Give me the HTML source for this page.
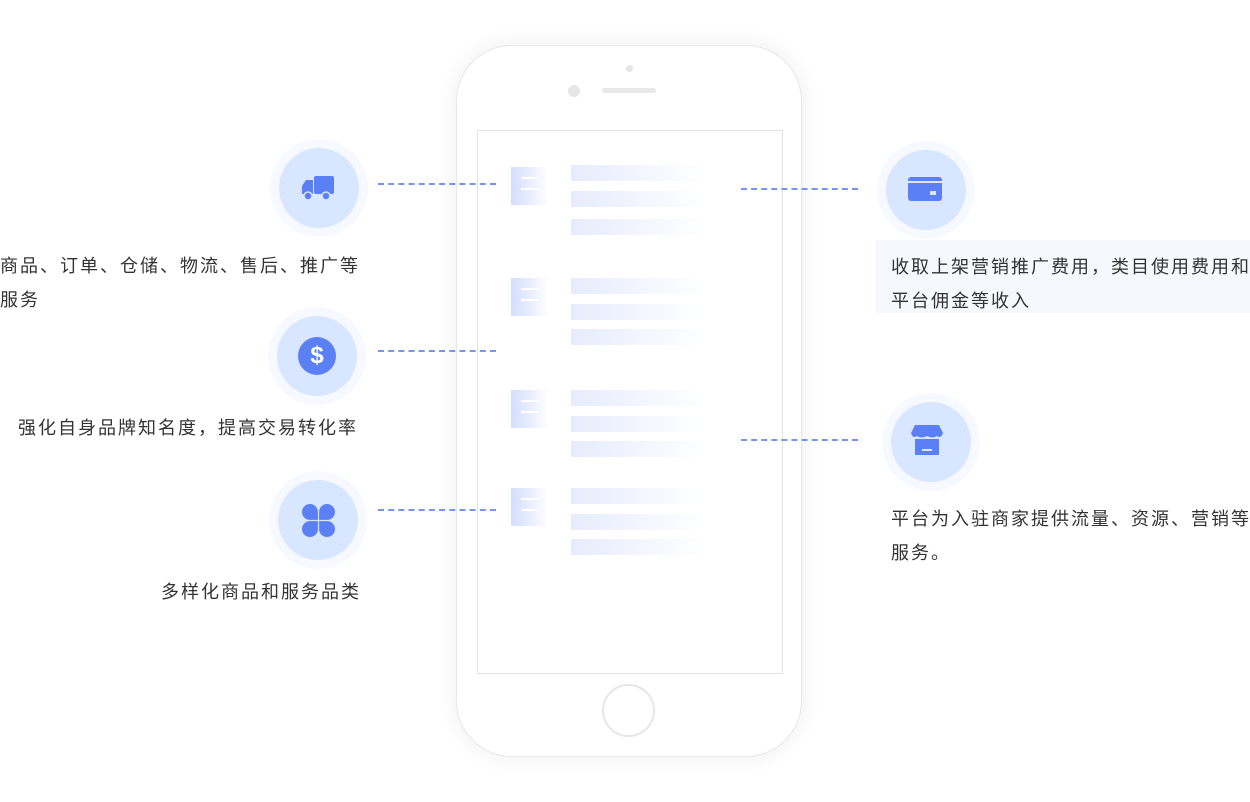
<!DOCTYPE html>
<html><head><meta charset="utf-8"><style>
body{margin:0;width:1250px;height:802px;background:#fff;position:relative;overflow:hidden;font-family:"Liberation Sans","Noto Sans CJK SC",sans-serif;color:#333}
.a{position:absolute}
.phone{left:456px;top:45px;width:344px;height:710px;border:1.5px solid #e8e8e8;border-radius:56px;box-shadow:0 0 22px rgba(0,0,0,0.07);background:#fff}
.screen{left:477px;top:130px;width:304px;height:542px;border:1.5px solid #e3e3e3}
.ic{width:38px;height:38px;background:linear-gradient(90deg,#d3ddfd,#fff)}
.ic:before,.ic:after{content:"";position:absolute;left:10px;width:18px;height:2px;background:#fff}
.ic:before{top:10px}.ic:after{top:21px}
.bar{width:135px;height:16px;background:linear-gradient(90deg,#e6ecfd,#fff)}
.dl{height:0;border-top:2px dashed #7694ee}
.c{width:98px;height:98px;border-radius:50%;background:#f6f9ff}
.c>div{position:absolute;left:9px;top:9px;width:80px;height:80px;border-radius:50%;background:#d9e6ff}
.t{font-size:18px;letter-spacing:2px;line-height:34px;white-space:nowrap}
</style></head><body>
<div class="a phone"></div>
<div class="a" style="left:626px;top:65px;width:7px;height:7px;border-radius:50%;background:#e6e6e6"></div>
<div class="a" style="left:568px;top:85px;width:12px;height:12px;border-radius:50%;background:#e6e6e6"></div>
<div class="a" style="left:602px;top:88px;width:54px;height:5px;border-radius:3px;background:#e8e8e8"></div>
<div class="a screen"></div>
<div class="a" style="left:602px;top:684px;width:49px;height:49px;border-radius:50%;border:2px solid #e6e6e6"></div>

<div class="a ic" style="left:511px;top:167px"></div>
<div class="a bar" style="left:571px;top:165px"></div><div class="a bar" style="left:571px;top:191px"></div><div class="a bar" style="left:571px;top:219px"></div>
<div class="a ic" style="left:511px;top:278px"></div>
<div class="a bar" style="left:571px;top:278px"></div><div class="a bar" style="left:571px;top:304px"></div><div class="a bar" style="left:571px;top:329px"></div>
<div class="a ic" style="left:511px;top:390px"></div>
<div class="a bar" style="left:571px;top:390px"></div><div class="a bar" style="left:571px;top:416px"></div><div class="a bar" style="left:571px;top:441px"></div>
<div class="a ic" style="left:511px;top:488px"></div>
<div class="a bar" style="left:571px;top:488px"></div><div class="a bar" style="left:571px;top:514px"></div><div class="a bar" style="left:571px;top:539px"></div>

<div class="a dl" style="left:378px;top:183px;width:118px"></div>
<div class="a dl" style="left:378px;top:350px;width:118px"></div>
<div class="a dl" style="left:378px;top:509px;width:118px"></div>
<div class="a dl" style="left:741px;top:188px;width:117px"></div>
<div class="a dl" style="left:741px;top:439px;width:117px"></div>

<div class="a c" style="left:270px;top:139px"><div></div></div>
<svg class="a" style="left:300px;top:174px" width="36" height="28" viewBox="0 0 36 28"><rect x="14" y="2" width="20" height="18" rx="2" fill="#5b80f5"/><path d="M2 12 L6 6 H13 V20 H2 Z" fill="#5b80f5"/><circle cx="8" cy="22" r="4" fill="#5b80f5" stroke="#d9e6ff" stroke-width="1.5"/><circle cx="26" cy="22" r="4" fill="#5b80f5" stroke="#d9e6ff" stroke-width="1.5"/></svg>
<div class="a c" style="left:268px;top:307px"><div></div></div>
<div class="a" style="left:298px;top:337px;width:38px;height:38px;border-radius:50%;background:#5b80f5;color:#fff;font-weight:bold;font-size:24px;line-height:38px;text-align:center">$</div>
<div class="a c" style="left:269px;top:471px"><div></div></div>
<svg class="a" style="left:302px;top:504px" width="33" height="33"><circle cx="8" cy="8" r="8" fill="#5b80f5"/><circle cx="25" cy="8" r="8" fill="#5b80f5"/><circle cx="8" cy="25" r="8" fill="#5b80f5"/><circle cx="25" cy="25" r="8" fill="#5b80f5"/><rect x="8" y="8" width="17" height="17" fill="#5b80f5"/><path d="M16.5 0V33M0 16.5H33" stroke="#d9e6ff" stroke-width="1.2"/></svg>
<div class="a c" style="left:877px;top:141px"><div></div></div>
<svg class="a" style="left:908px;top:177px" width="34" height="26"><rect x="0" y="0" width="34" height="24" rx="3" fill="#5b80f5"/><rect x="0" y="4" width="34" height="2" fill="#d9e6ff"/><rect x="22" y="14" width="6" height="4" fill="#d9e6ff"/></svg>
<div class="a c" style="left:882px;top:393px"><div></div></div>
<svg class="a" style="left:911px;top:425px" width="32" height="32"><path d="M4 0H28L32 8Q30 14 26 11Q22 14 16 11Q10 14 6 11Q2 14 0 8Z" fill="#5b80f5"/><rect x="4" y="14" width="24" height="16" fill="#5b80f5"/><rect x="11" y="24" width="10" height="2" fill="#d9e6ff"/></svg>

<div class="a t" style="left:0;top:249px">商品、订单、仓储、物流、售后、推广等<br>服务</div>
<div class="a t" style="right:892px;top:411px">强化自身品牌知名度，提高交易转化率</div>
<div class="a t" style="right:889px;top:575px">多样化商品和服务品类</div>
<div class="a" style="left:875px;top:240px;width:375px;height:73px;background:#f5f8fd"></div>
<div class="a t" style="left:891px;top:250px">收取上架营销推广费用，类目使用费用和<br>平台佣金等收入</div>
<div class="a t" style="left:891px;top:502px">平台为入驻商家提供流量、资源、营销等<br>服务。</div>
</body></html>
